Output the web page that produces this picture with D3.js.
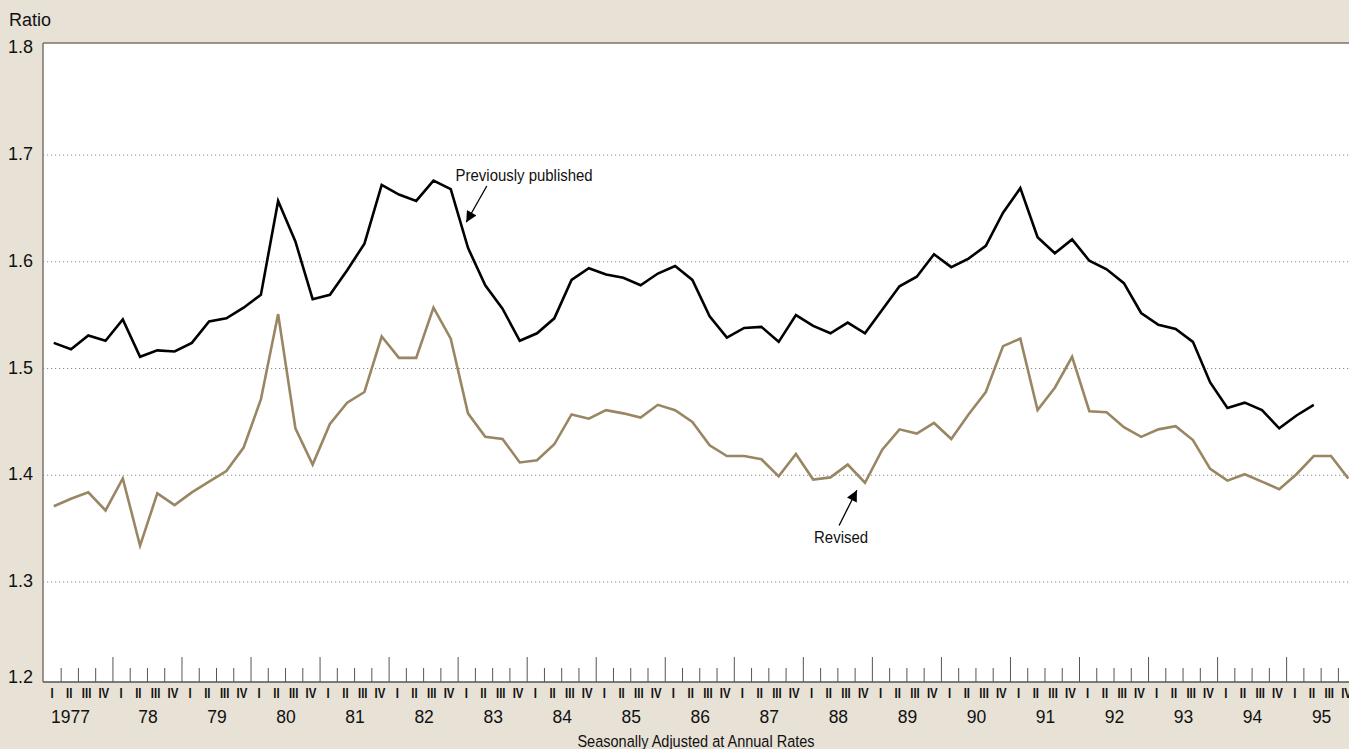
<!DOCTYPE html>
<html>
<head>
<meta charset="utf-8">
<script src="https://cdn.jsdelivr.net/npm/d3@7"></script>
<style>
  body { margin: 0; background: #e8e2d6; }
  svg { display: block; font-family: "Liberation Sans", Arial, sans-serif; }
</style>
</head>
<body>
<div id="chart"></div>
<script>
// quarter / year labels
const quarters = ["I", "II", "III", "IV"];
const years = ["1977", "78", "79", "80", "81", "82", "83", "84", "85", "86",
  "87", "88", "89", "90", "91", "92", "93", "94", "95"];
const yTicks = [1.2, 1.3, 1.4, 1.5, 1.6, 1.7, 1.8];

// ratio, quarterly from 1977 I
const previous = [1.524, 1.518, 1.531, 1.526, 1.546, 1.511, 1.517, 1.516, 1.524, 1.544,
  1.547, 1.557, 1.569, 1.657, 1.619, 1.565, 1.569, 1.592, 1.617, 1.672,
  1.663, 1.657, 1.676, 1.668, 1.613, 1.578, 1.556, 1.526, 1.533, 1.547,
  1.583, 1.594, 1.588, 1.585, 1.578, 1.589, 1.596, 1.583, 1.549,
  1.529, 1.538, 1.539, 1.525, 1.550, 1.540, 1.533, 1.543, 1.533, 1.555,
  1.577, 1.586, 1.607, 1.595, 1.603, 1.615, 1.646, 1.669,
  1.623, 1.608, 1.621, 1.601, 1.593, 1.580, 1.552, 1.541, 1.537, 1.525,
  1.487, 1.463, 1.468, 1.461, 1.444, 1.456, 1.466];

const revised = [1.371, 1.378, 1.384, 1.367, 1.397, 1.334, 1.383, 1.372, 1.384, 1.394,
  1.404, 1.426, 1.471, 1.551, 1.444, 1.410, 1.448, 1.468, 1.478, 1.530,
  1.510, 1.510, 1.557, 1.528, 1.458, 1.436, 1.434, 1.412, 1.414, 1.429,
  1.457, 1.453, 1.461, 1.458, 1.454, 1.466, 1.461, 1.450, 1.428,
  1.418, 1.418, 1.415, 1.399, 1.420, 1.396, 1.398, 1.410, 1.393, 1.424,
  1.443, 1.439, 1.449, 1.434, 1.457, 1.478, 1.521, 1.528,
  1.461, 1.482, 1.511, 1.460, 1.459, 1.445, 1.436, 1.443, 1.446, 1.433,
  1.406, 1.395, 1.401, 1.394, 1.387, 1.401, 1.418, 1.418, 1.397];

const width = 1349, height = 749;
const plotLeft = 43, plotTop = 43, plotBottom = 682;

const svg = d3.select("#chart").append("svg")
  .attr("width", width)
  .attr("height", height);

const x = d3.scaleLinear().domain([0, 76]).range([43.4, 43.4 + 76 * 17.26]);
const y = d3.scaleLinear().domain([1.2, 1.3, 1.8]).range([plotBottom, 582, 48.3]);

// plot background
svg.append("rect")
  .attr("x", plotLeft).attr("y", plotTop)
  .attr("width", width - plotLeft).attr("height", plotBottom - plotTop)
  .attr("fill", "#fff");

// dotted grid
svg.append("g")
  .selectAll("line")
  .data(yTicks.filter(d => d > 1.2 && d < 1.8))
  .enter().append("line")
    .attr("x1", plotLeft).attr("x2", width)
    .attr("y1", d => y(d)).attr("y2", d => y(d))
    .attr("stroke", "#8a8a8a")
    .attr("stroke-width", 1)
    .attr("stroke-dasharray", "1.2,2.8");

// frame
svg.append("line")
  .attr("x1", plotLeft).attr("x2", width).attr("y1", plotTop).attr("y2", plotTop)
  .attr("stroke", "#7a7468").attr("stroke-width", 1.5);
svg.append("line")
  .attr("x1", plotLeft).attr("x2", plotLeft).attr("y1", plotTop).attr("y2", plotBottom)
  .attr("stroke", "#7a7468").attr("stroke-width", 1.5);

// y labels
svg.append("g")
  .selectAll("text")
  .data(yTicks)
  .enter().append("text")
    .attr("x", 33)
    .attr("y", d => (d === 1.2 ? y(d) - 5 : y(d) - 1.5))
    .attr("dy", "0.36em")
    .attr("text-anchor", "end")
    .attr("font-size", 18)
    .attr("fill", "#111")
    .text(d => d.toFixed(1));

svg.append("text")
  .attr("x", 9).attr("y", 26)
  .attr("font-size", 18)
  .attr("fill", "#111")
  .text("Ratio");

// x axis with inward ticks
const xAxis = svg.append("g")
  .attr("transform", `translate(0,${plotBottom})`)
  .call(d3.axisBottom(x)
    .tickValues(d3.range(1, 76))
    .tickSizeInner(-14)
    .tickSizeOuter(0)
    .tickFormat(""));
xAxis.select(".domain").attr("stroke", "#555").attr("stroke-width", 1.5)
  .attr("d", `M${plotLeft},0H${width}`);
xAxis.selectAll(".tick line")
  .attr("stroke", "#555")
  .attr("y2", d => (d % 4 === 0 ? -25 : -14));

// quarter numerals
svg.append("g")
  .selectAll("text")
  .data(d3.range(76))
  .enter().append("text")
    .attr("transform", d => `translate(${x(d + 0.5)},698) scale(0.76,1)`)
    .attr("text-anchor", "middle")
    .attr("font-size", 15)
    .attr("font-weight", "bold")
    .attr("fill", "#111")
    .text(d => quarters[d % 4]);

// years
svg.append("g")
  .selectAll("text")
  .data(years)
  .enter().append("text")
    .attr("x", (d, i) => (i === 0 ? x(0.5) - 1 : x(i * 4 + 2) + 1))
    .attr("y", 723)
    .attr("text-anchor", (d, i) => (i === 0 ? "start" : "middle"))
    .attr("font-size", 17.5)
    .attr("fill", "#111")
    .text(d => d);

svg.append("text")
  .attr("transform", `translate(696,747) scale(0.88,1)`)
  .attr("text-anchor", "middle")
  .attr("font-size", 16.5)
  .attr("fill", "#111")
  .text("Seasonally Adjusted at Annual Rates");

// series
const line = d3.line()
  .x((d, i) => x(i + 0.6))
  .y(d => y(d));

svg.append("path")
  .datum(revised)
  .attr("d", line)
  .attr("fill", "none")
  .attr("stroke", "#998663")
  .attr("stroke-width", 2.6)
  .attr("stroke-linejoin", "miter");

svg.append("path")
  .datum(previous)
  .attr("d", line)
  .attr("fill", "none")
  .attr("stroke", "#000")
  .attr("stroke-width", 2.6)
  .attr("stroke-linejoin", "miter");

// annotations (quarter index, ratio)
svg.append("defs").append("marker")
  .attr("id", "head")
  .attr("viewBox", "0 0 10 10")
  .attr("refX", 10).attr("refY", 5)
  .attr("markerWidth", 17).attr("markerHeight", 11)
  .attr("markerUnits", "userSpaceOnUse")
  .attr("orient", "auto")
  .append("path")
    .attr("d", "M0,0L10,5L0,10Z")
    .attr("fill", "#000");

function note(label, tx, tv, ax, av, bx, bv) {
  svg.append("line")
    .attr("x1", x(ax)).attr("y1", y(av))
    .attr("x2", x(bx)).attr("y2", y(bv))
    .attr("stroke", "#000").attr("stroke-width", 1.3)
    .attr("marker-end", "url(#head)");
  svg.append("text")
    .attr("transform", `translate(${x(tx)},${y(tv)}) scale(0.88,1)`)
    .attr("font-size", 17)
    .attr("fill", "#111")
    .text(label);
}

note("Previously published", 23.88, 1.676, 25.69, 1.671, 24.5, 1.637);
note("Revised", 44.65, 1.337, 46.1, 1.353, 47.13, 1.386);
</script>
</body>
</html>
